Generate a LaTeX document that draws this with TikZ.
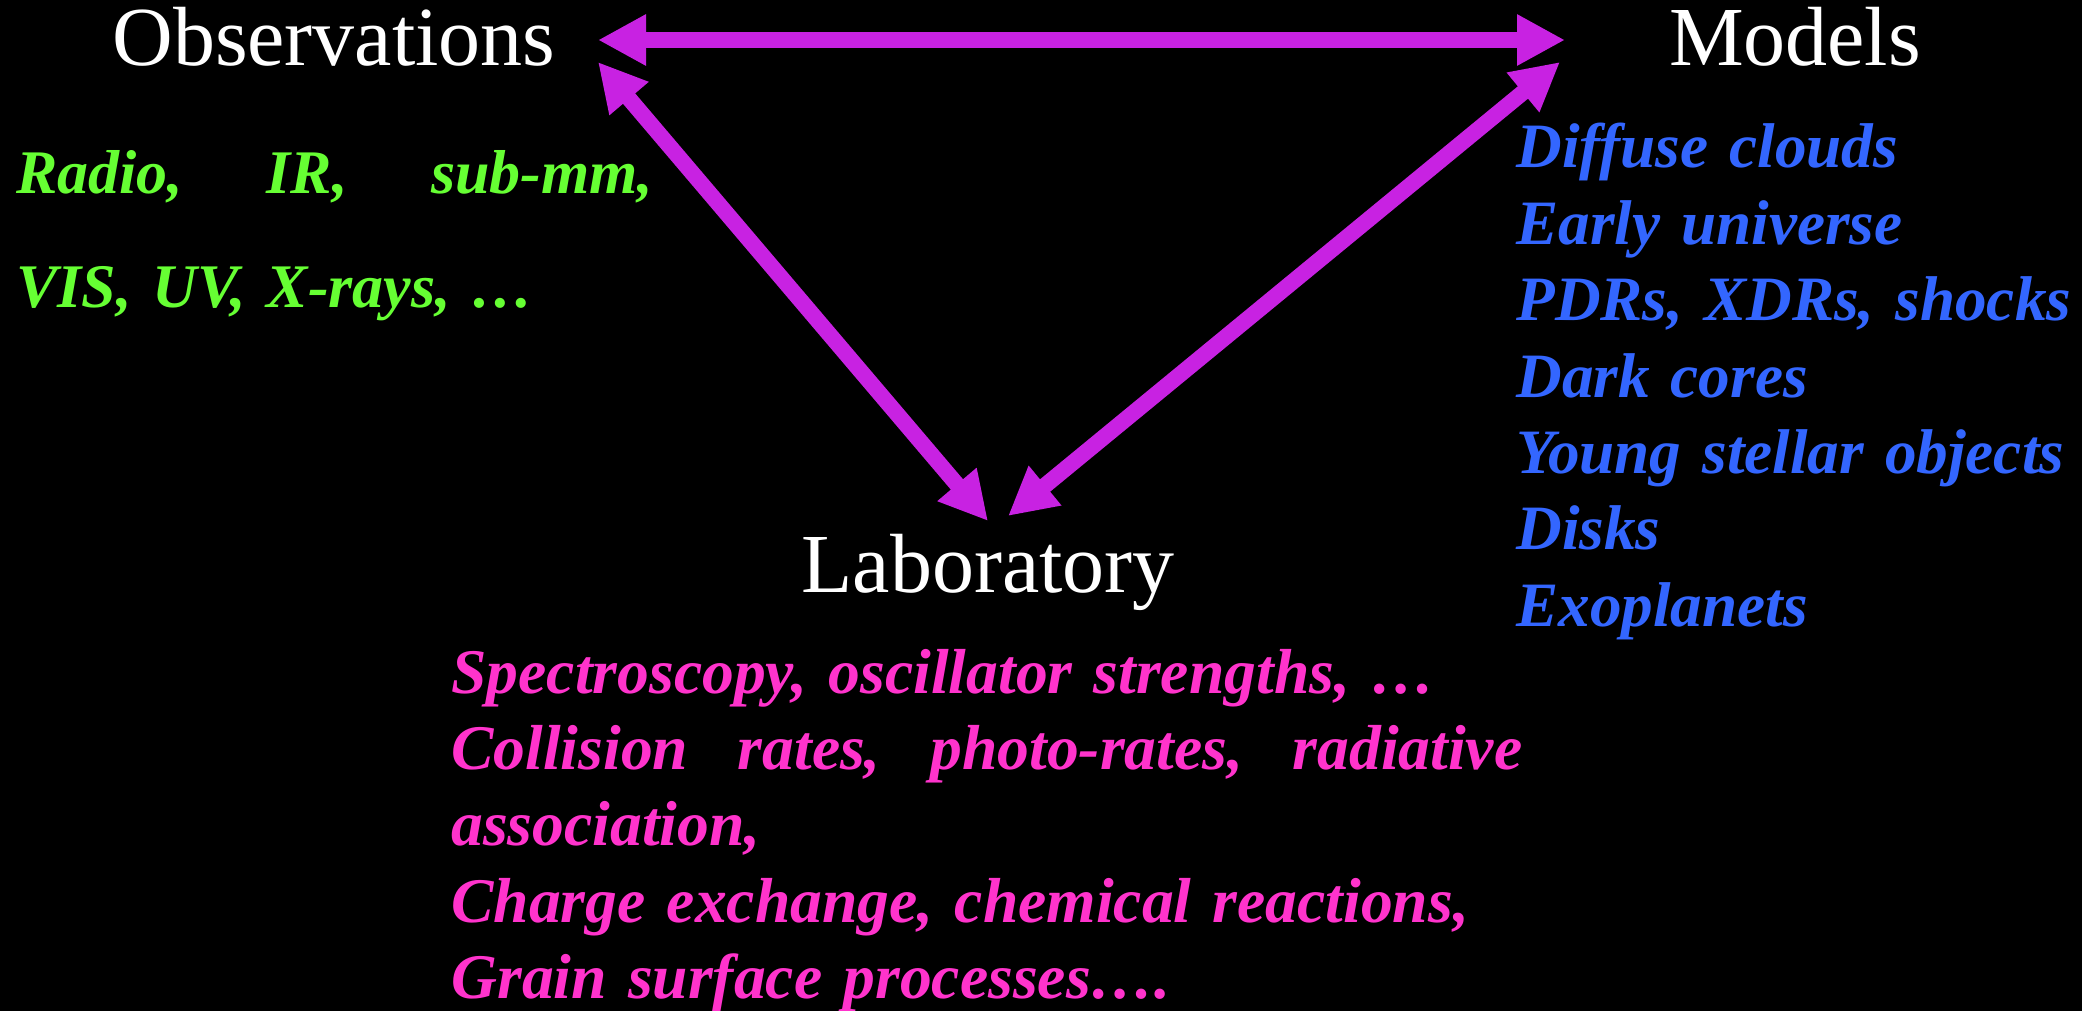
\documentclass[tikz,border=0pt]{standalone}
\usepackage{fontspec}
\setmainfont{Liberation Serif}
\usetikzlibrary{arrows.meta}
\definecolor{obsgreen}{RGB}{102,255,51}
\definecolor{modblue}{RGB}{51,102,255}
\definecolor{labpink}{RGB}{255,51,204}
\definecolor{linkviolet}{RGB}{200,34,226}
\tikzset{
  heading/.style={text=white, inner sep=0pt, anchor=base, font=\fontsize{42}{50}\selectfont},
  items/.style={inner sep=0pt, anchor=base west, align=left},
  link/.style={line width=8pt, draw=linkviolet, <->, >={Triangle[length=24pt,width=24pt]}},
}

\begin{document}
\begin{tikzpicture}[x=0.5pt, y=-0.5pt]
          \useasboundingbox (0,0) rectangle (2082,1011);
          \fill[black] (0,0) rectangle (2082,1011);
          \node[heading] (obs) at (334,66) {Observations};
          \node[heading] (mod) at (1795,66) {Models};
          \node[heading] (lab) at (988,592) {Laboratory};
          \node[items, text=obsgreen, text width=318.5pt,
            font=\bfseries\itshape\fontsize{31}{57}\selectfont] (obslist) at (16,193)
            {Radio,\hfill IR,\hfill sub-mm,\\ VIS, UV, X-rays, \ldots};
          \node[items, text=modblue, text width=300pt,
            font=\bfseries\itshape\fontsize{31.6}{38.2}\selectfont] (modlist) at (1516,168)
            {Diffuse clouds\\ Early universe\\ PDRs, XDRs, shocks\\ Dark cores\\
             Young stellar objects\\ Disks\\ Exoplanets};
          \node[items, text=labpink, text width=535.5pt,
            font=\bfseries\itshape\fontsize{31.8}{38.2}\selectfont] (lablist) at (451,693)
            {Spectroscopy, oscillator strengths, \ldots\\
             Collision\hfill rates,\hfill photo-rates,\hfill radiative\\ association,\\
             Charge exchange, chemical reactions,\\ Grain surface processes\ldots.};
          \coordinate (obs-m) at (598,40);
          \coordinate (mod-o) at (1565,40);
          \coordinate (obs-l) at (598,62);
          \coordinate (lab-o) at (988,521);
          \coordinate (mod-l) at (1560,62);
          \coordinate (lab-m) at (1008,516);
          \foreach \a/\b in {obs-m/mod-o, obs-l/lab-o, mod-l/lab-m} \draw[link] (\a) -- (\b);
        \end{tikzpicture}
\end{document}
